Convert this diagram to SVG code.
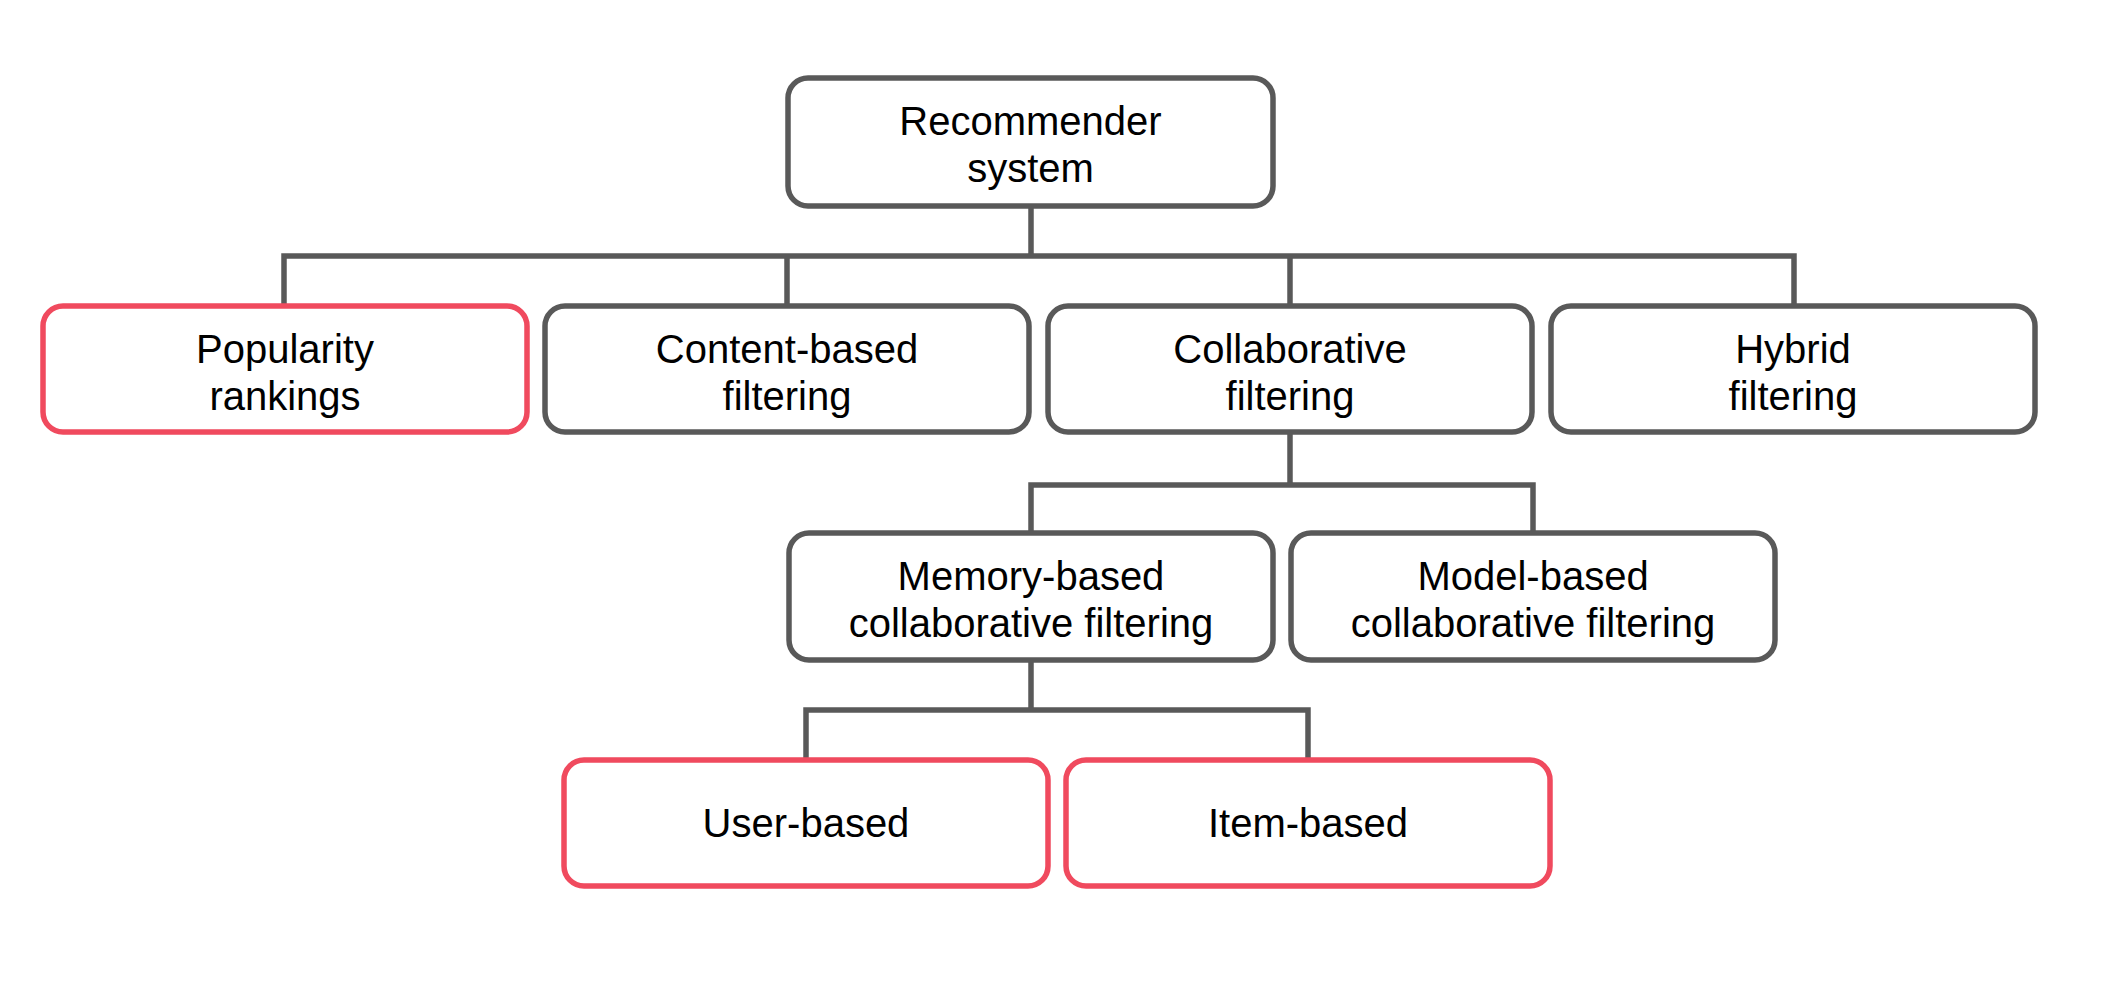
<svg xmlns="http://www.w3.org/2000/svg" width="2102" height="1002" viewBox="0 0 2102 1002">
<style>
.box{fill:#ffffff;stroke:#595959;stroke-width:5.5}
.red{fill:#ffffff;stroke:#f04a5e;stroke-width:5.5}
.lbl{font-family:"Liberation Sans",Arial,sans-serif;font-size:40px;fill:#000000;text-anchor:middle}
.con{fill:none;stroke:#595959;stroke-width:5.5;stroke-linecap:square}
</style>
<rect width="2102" height="1002" fill="#ffffff"/>
<g id="connectors">
<path class="con" d="M1031 206V256M284 306V256H1794V306M787 256V306M1290 256V306"/>
<path class="con" d="M1290 432V485M1031 533V485H1533V533"/>
<path class="con" d="M1031 660V710M806 760V710H1308V760"/>
</g>
<g id="n-recommender"><rect class="box" x="788" y="78" width="485" height="128" rx="20"/><text class="lbl" x="1030.5" y="135">Recommender</text><text class="lbl" x="1030.5" y="182">system</text></g>
<g id="n-popularity"><rect class="red" x="43" y="306" width="484" height="126" rx="20"/><text class="lbl" x="285" y="363">Popularity</text><text class="lbl" x="285" y="410">rankings</text></g>
<g id="n-content"><rect class="box" x="545" y="306" width="484" height="126" rx="20"/><text class="lbl" x="787" y="363">Content-based</text><text class="lbl" x="787" y="410">filtering</text></g>
<g id="n-collab"><rect class="box" x="1048" y="306" width="484" height="126" rx="20"/><text class="lbl" x="1290" y="363">Collaborative</text><text class="lbl" x="1290" y="410">filtering</text></g>
<g id="n-hybrid"><rect class="box" x="1551" y="306" width="484" height="126" rx="20"/><text class="lbl" x="1793" y="363">Hybrid</text><text class="lbl" x="1793" y="410">filtering</text></g>
<g id="n-memory"><rect class="box" x="789" y="533" width="484" height="127" rx="20"/><text class="lbl" x="1031" y="590">Memory-based</text><text class="lbl" x="1031" y="637">collaborative filtering</text></g>
<g id="n-model"><rect class="box" x="1291" y="533" width="484" height="127" rx="20"/><text class="lbl" x="1533" y="590">Model-based</text><text class="lbl" x="1533" y="637">collaborative filtering</text></g>
<g id="n-user"><rect class="red" x="564" y="760" width="484" height="126" rx="20"/><text class="lbl" x="806" y="837">User-based</text></g>
<g id="n-item"><rect class="red" x="1066" y="760" width="484" height="126" rx="20"/><text class="lbl" x="1308" y="837">Item-based</text></g>
</svg>
